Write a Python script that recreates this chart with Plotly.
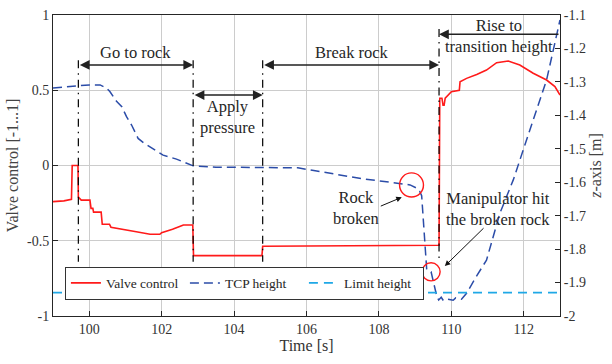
import plotly.graph_objects as go

# ---- measured signals -------------------------------------------------------
# Valve control command, normalised to [-1 ... 1] (left axis)
valve_t = [99.00, 99.30, 99.51, 99.53, 99.69, 99.70, 99.78, 100.02, 100.05, 100.10,
           100.12, 100.33, 100.36, 100.56, 100.60, 100.90, 101.30, 101.68, 101.95,
           102.00, 102.30, 102.55, 102.60, 102.86, 102.88, 104.77, 104.79, 109.66,
           109.68, 109.74, 109.77, 109.80, 109.83, 110.00, 110.22, 110.24, 110.42,
           110.70, 110.97, 111.25, 111.57, 111.89, 112.26, 112.63, 112.86, 113.00]
valve_u = [-0.240, -0.235, -0.225, 0.000, 0.000, -0.210, -0.230, -0.230, -0.285, -0.285,
           -0.310, -0.310, -0.390, -0.390, -0.410, -0.425, -0.440, -0.457, -0.457,
           -0.446, -0.424, -0.400, -0.395, -0.395, -0.599, -0.599, -0.537, -0.530,
           0.447, 0.447, 0.400, 0.400, 0.447, 0.490, 0.500, 0.557, 0.579,
           0.605, 0.634, 0.683, 0.694, 0.668, 0.613, 0.568, 0.524, 0.468]

# Tool centre point height along the z-axis [m] (right axis)
tcp_t = [99.00, 99.20, 99.40, 99.74, 100.00, 100.30, 100.48, 100.57, 100.76, 100.90,
         101.03, 101.17, 101.31, 101.35, 101.50, 101.68, 102.04, 102.41, 102.78,
         102.87, 103.50, 104.50, 105.20, 105.76, 106.20, 106.65, 107.10, 107.57,
         108.30, 108.86, 109.05, 109.13, 109.18, 109.32, 109.44, 109.60, 109.65,
         109.72, 109.78, 109.90, 110.05, 110.12, 110.28, 110.42, 110.70, 110.97,
         111.34, 111.71, 112.26, 112.63, 113.00]
tcp_z = [-1.318, -1.316, -1.313, -1.311, -1.309, -1.309, -1.319, -1.329, -1.359, -1.374,
         -1.404, -1.429, -1.459, -1.469, -1.482, -1.494, -1.519, -1.531, -1.548,
         -1.551, -1.555, -1.555, -1.556, -1.557, -1.565, -1.573, -1.582, -1.590,
         -1.600, -1.608, -1.618, -1.628, -1.640, -1.862, -1.868, -1.942, -1.952,
         -1.944, -1.954, -1.950, -1.953, -1.946, -1.950, -1.932, -1.880, -1.833,
         -1.693, -1.593, -1.414, -1.294, -1.115]

# Safety limit for the tool height [m]
limit_z = -1.93
time_span = [99, 113]

# Phase boundaries [s]: go to rock / apply pressure / break rock / rise
phase_bounds = [99.70, 102.87, 104.79, 109.66]

# ---- tick labels ------------------------------------------------------------
x_ticks = [100, 102, 104, 106, 108, 110, 112]
x_tick_labels = ["100", "102", "104", "106", "108", "110", "112"]
left_ticks = [-1, -0.5, 0, 0.5, 1]
left_tick_labels = ["-1", "-0.5", "0", "0.5", "1"]
right_ticks = [-2.0, -1.9, -1.8, -1.7, -1.6, -1.5, -1.4, -1.3, -1.2, -1.1]
right_tick_labels = ["-2", "-1.9", "-1.8", "-1.7", "-1.6", "-1.5", "-1.4", "-1.3", "-1.2", "-1.1"]

SERIF = "'Liberation Serif', 'Times New Roman', 'DejaVu Serif', serif"
INK = "#262626"
RED = "#ff1a1a"
NAVY = "#2b4ca8"
SKY = "#1fa8e6"

fig = go.Figure()
fig.add_trace(go.Scatter(x=valve_t, y=valve_u, mode="lines", name="Valve control",
                         line=dict(color=RED, width=1.6), yaxis="y"))
fig.add_trace(go.Scatter(x=tcp_t, y=tcp_z, mode="lines", name="TCP height",
                         line=dict(color=NAVY, width=1.5, dash="9px,5px"), yaxis="y2"))
fig.add_trace(go.Scatter(x=time_span, y=[limit_z, limit_z], mode="lines", name="Limit height",
                         line=dict(color=SKY, width=1.8, dash="9px,6px"), yaxis="y2"))

shapes = []
# dash-dot phase separators
tops = [0.70, 0.70, 0.70, 0.907]
for xb, top in zip(phase_bounds, tops):
    shapes.append(dict(type="line", xref="x", yref="y", x0=xb, x1=xb, y0=top, y1=-0.64,
                       line=dict(color="black", width=1.2, dash="8px,5px,1.5px,5px"),
                       layer="above"))
# red circles marking the events on the TCP height curve
for cx, cy, rx, ry in [(108.90, -1.608, 0.33, 0.036), (109.44, -1.868, 0.25, 0.027)]:
    shapes.append(dict(type="circle", xref="x", yref="y2", x0=cx - rx, x1=cx + rx,
                       y0=cy - ry, y1=cy + ry, line=dict(color="#ff1a1a", width=1.4),
                       layer="above"))

annotations = []
# phase arrows
def phase_arrow(x_tip, x_tail, y, both=True):
    annotations.append(dict(x=x_tip, y=y, ax=x_tail, ay=y, xref="x", yref="y", axref="x",
                            ayref="y", text="", showarrow=True, arrowhead=2,
                            arrowside="end+start" if both else "end",
                            startarrowhead=2, arrowsize=1.3, startarrowsize=1.3,
                            arrowwidth=1.5, arrowcolor="#222", standoff=0, startstandoff=0))

phase_arrow(phase_bounds[1], phase_bounds[0], 0.668)
phase_arrow(phase_bounds[2], phase_bounds[1], 0.468)
phase_arrow(phase_bounds[3], phase_bounds[2], 0.668)
phase_arrow(phase_bounds[3], 113.0, 0.872, both=False)

def label(x, y, text):
    annotations.append(dict(x=x, y=y, xref="x", yref="y", text=text, showarrow=False,
                            font=dict(family=SERIF, size=16.5, color=INK),
                            xanchor="center", yanchor="middle"))

label(101.29, 0.754, "Go to rock")
label(103.83, 0.32, "Apply<br>pressure")
label(107.25, 0.752, "Break rock")
label(111.32, 0.862, "Rise to<br>transition height")
label(107.38, -0.281, "Rock<br>broken")
label(111.29, -0.292, "Manipulator hit<br>the broken rock")

# pointer arrows to the circled events
for x_tip, y_tip, x_tail, y_tail in [(108.63, -0.211, 108.01, -0.274),
                                     (109.82, -0.668, 110.93, -0.407)]:
    annotations.append(dict(x=x_tip, y=y_tip, ax=x_tail, ay=y_tail, xref="x", yref="y",
                            axref="x", ayref="y", text="", showarrow=True, arrowhead=2,
                            arrowsize=1.1, arrowwidth=1.0, arrowcolor="#111", standoff=0))

axis_font = dict(family=SERIF, size=14, color="#333333")
fig.update_layout(
    width=612, height=364,
    margin=dict(l=53, r=52, t=15, b=48, autoexpand=False),
    paper_bgcolor="white", plot_bgcolor="white",
    font=dict(family=SERIF, color=INK),
    showlegend=True,
    legend=dict(orientation="h", x=0.0235, y=0.164, xanchor="left", yanchor="top",
                bgcolor="white", bordercolor="#333", borderwidth=1,
                font=dict(family=SERIF, size=13.5, color=INK),
                itemwidth=30, tracegroupgap=0, entrywidth=74, entrywidthmode="pixels"),
    xaxis=dict(range=time_span, tickvals=x_ticks, ticktext=x_tick_labels,
               showgrid=True, gridcolor="#cccccc", gridwidth=1, zeroline=False,
               showline=True, linecolor=INK, linewidth=1, mirror=True, automargin=False,
               ticks="inside", ticklen=5, tickcolor=INK, tickfont=axis_font,
               title=dict(text="Time [s]", font=dict(family=SERIF, size=16, color="#333333"),
                          standoff=4)),
    yaxis=dict(range=[-1, 1], tickvals=left_ticks, ticktext=left_tick_labels,
               showgrid=True, gridcolor="#cccccc", gridwidth=1, zeroline=False,
               showline=True, linecolor=INK, linewidth=1, automargin=False,
               ticks="inside", ticklen=5, tickcolor=INK, tickfont=axis_font,
               title=dict(text="Valve control [-1...1]",
                          font=dict(family=SERIF, size=16, color="#444444"), standoff=4)),
    yaxis2=dict(range=[-2, -1.1], tickvals=right_ticks, ticktext=right_tick_labels,
                overlaying="y", side="right", showgrid=False, zeroline=False,
                showline=True, linecolor=INK, linewidth=1, automargin=False,
                ticks="inside", ticklen=5, tickcolor=INK, tickfont=axis_font,
                title=dict(text="<i>z</i>-axis [m]",
                           font=dict(family=SERIF, size=16, color="#444444"), standoff=4)),
    shapes=shapes,
    annotations=annotations,
)

fig.write_html("out.html")
